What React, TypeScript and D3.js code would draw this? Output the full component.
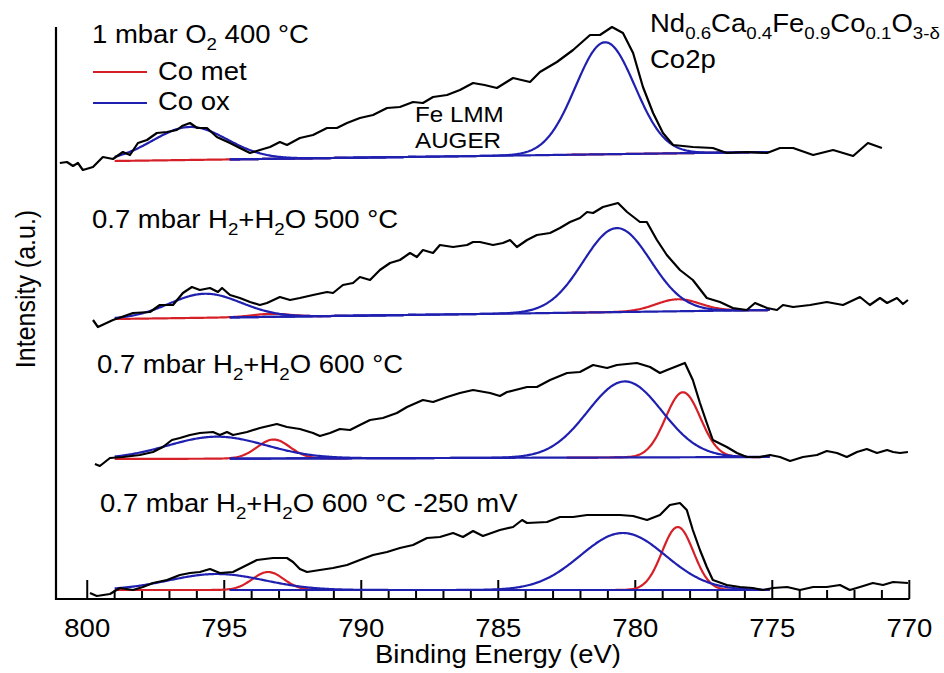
import React from 'react';
import * as d3 from 'd3';

const W = 944;
const H = 673;

// ---------- DATA ----------
const spectrumLabels = [
  '1 mbar O_2 400 °C',
  '0.7 mbar H_2+H_2O 500 °C',
  '0.7 mbar H_2+H_2O 600 °C',
  '0.7 mbar H_2+H_2O 600 °C -250 mV',
];
const formulaLabel = 'Nd_{0.6}Ca_{0.4}Fe_{0.9}Co_{0.1}O_{3-δ}';
const regionLabel = 'Co2p';
const augerLabel = ['Fe LMM', 'AUGER'];
const legendLabels = ['Co met', 'Co ox'];
const xTickLabels = [800, 795, 790, 785, 780, 775, 770];
const xTitle = 'Binding Energy (eV)';
const yTitle = 'Intensity (a.u.)';

// Raw spectra: [binding energy eV, intensity a.u. (stacked)]
const rawO2_400: [number, number][] = [
  [801.0, 436], [800.74, 437], [800.52, 433], [800.34, 436], [800.16, 429], [799.79, 432], [799.43, 442],
  [799.06, 440], [798.7, 447], [798.44, 444], [798.15, 456], [797.82, 459], [797.46, 466], [797.09, 467],
  [796.73, 469], [796.54, 473], [796.25, 476], [795.99, 471], [795.63, 471], [795.27, 462], [794.79, 456],
  [794.43, 451], [794.06, 446], [793.7, 449], [793.33, 452], [792.97, 457], [792.71, 454], [792.24, 461],
  [791.76, 464], [791.25, 471], [790.89, 471], [790.52, 476], [790.05, 481], [789.57, 484], [789.06, 491],
  [788.59, 492], [788.11, 497], [787.75, 496], [787.38, 502], [786.87, 504], [786.4, 509], [785.92, 516],
  [785.5, 514], [785.05, 511], [784.46, 521], [783.84, 517], [783.48, 527], [782.86, 537], [782.27, 549],
  [781.65, 564], [781.29, 564], [780.85, 572], [780.45, 566], [780.08, 546], [779.72, 512], [779.35, 486],
  [778.99, 466], [778.62, 454], [777.9, 452], [777.17, 451], [776.66, 446], [775.93, 447], [775.19, 446],
  [774.72, 451], [774.24, 451], [773.51, 444], [772.78, 449], [772.05, 443], [771.51, 456], [771.0, 451],
];
const rawH2_500: [number, number][] = [
  [799.79, 279], [799.61, 272], [799.06, 279], [798.33, 286], [797.71, 287], [797.35, 294], [796.87, 294],
  [796.51, 306], [796.18, 312], [795.89, 309], [795.52, 311], [795.23, 307], [795.08, 311], [794.79, 304],
  [794.43, 301], [794.06, 297], [793.7, 294], [793.44, 296], [792.97, 302], [792.6, 299], [792.24, 301],
  [791.76, 304], [791.25, 307], [791.03, 306], [790.67, 314], [790.3, 316], [790.05, 322], [789.68, 319],
  [789.32, 329], [788.95, 336], [788.59, 339], [788.22, 346], [787.97, 342], [787.75, 349], [787.38, 346],
  [787.13, 354], [786.65, 352], [786.14, 354], [785.92, 357], [785.67, 357], [785.19, 354], [784.83, 356],
  [784.57, 359], [784.32, 352], [783.95, 359], [783.59, 364], [783.11, 366], [782.75, 371], [782.38, 377],
  [782.02, 381], [781.76, 387], [781.54, 386], [781.18, 392], [780.63, 396], [780.3, 387], [779.83, 377],
  [779.58, 377], [779.21, 359], [778.85, 344], [778.37, 329], [777.9, 319], [777.39, 301], [776.91, 297],
  [776.44, 291], [775.93, 289], [775.63, 296], [775.19, 291], [774.83, 289], [774.61, 294], [774.24, 292],
  [773.62, 294], [773.01, 297], [772.42, 294], [771.8, 302], [771.44, 294], [771.07, 301], [770.81, 296],
  [770.45, 301], [770.23, 295], [770.05, 299],
];
const rawH2_600: [number, number][] = [
  [799.72, 135], [799.54, 133], [799.17, 141], [798.7, 142], [798.08, 144], [797.6, 147], [797.24, 152],
  [796.91, 159], [796.62, 161], [796.25, 164], [795.89, 166], [795.41, 167], [795.16, 164], [794.9, 167],
  [794.68, 164], [794.17, 167], [793.7, 171], [793.08, 175], [792.71, 172], [792.24, 170], [791.76, 166],
  [791.51, 163], [791.14, 166], [790.78, 170], [790.41, 169], [790.05, 174], [789.68, 179], [789.21, 181],
  [788.7, 186], [788.33, 192], [787.75, 199], [787.38, 197], [786.87, 202], [786.4, 206], [785.92, 209],
  [785.3, 206], [784.94, 203], [784.68, 207], [783.95, 212], [783.59, 212], [783.11, 219], [782.49, 226],
  [782.02, 227], [781.54, 234], [781.03, 231], [780.67, 234], [779.94, 236], [779.46, 232], [779.1, 226],
  [778.84, 229], [778.19, 236], [777.9, 219], [777.64, 196], [777.39, 176], [777.17, 159], [776.66, 152],
  [776.29, 146], [775.93, 142], [775.45, 142], [775.08, 144], [774.72, 142], [774.35, 138], [773.88, 142],
  [773.37, 144], [773.01, 148], [772.64, 146], [772.28, 142], [771.91, 147], [771.55, 150], [771.18, 146],
  [770.81, 149], [770.59, 147], [770.34, 146], [770.05, 147],
];
const rawH2_600_bias: [number, number][] = [
  [799.9, 6], [799.65, 3], [799.17, 5], [798.81, 11], [798.33, 9], [797.97, 12], [797.6, 16], [797.09, 19],
  [796.62, 24], [796.25, 26], [795.89, 27], [795.52, 30], [795.16, 26], [794.68, 27], [794.17, 34],
  [793.81, 39], [793.22, 41], [792.71, 41], [792.49, 37], [792.24, 30], [791.98, 27], [791.51, 29],
  [791.03, 31], [790.52, 34], [790.05, 39], [789.57, 44], [789.06, 47], [788.59, 51], [788.11, 54],
  [787.6, 61], [787.13, 62], [786.65, 66], [786.29, 62], [785.92, 68], [785.56, 63], [784.94, 69],
  [784.46, 72], [784.13, 79], [783.95, 76], [783.22, 77], [782.75, 82], [782.27, 82], [781.76, 84],
  [781.18, 84], [780.56, 84], [780.08, 83], [779.57, 79], [779.1, 84], [778.74, 94], [778.37, 96],
  [778.12, 89], [777.9, 69], [777.64, 49], [777.39, 32], [777.17, 19], [776.66, 14], [776.18, 12],
  [775.71, 11], [775.34, 9], [774.98, 11], [774.46, 12], [773.99, 9], [773.51, 12], [773.01, 12],
  [772.53, 14], [772.17, 9], [771.8, 12], [771.33, 16], [770.96, 14], [770.59, 17], [770.05, 16],
];
const rawSpectra = [rawO2_400, rawH2_500, rawH2_600, rawH2_600_bias];

// Fit background (linear, from 799 eV to 775.1 eV)
const bgStartEnergy = 799;
const bgEndEnergy = 775.1;
const bgStart = [438, 280, 140, 9];
const bgEnd = [447, 289, 142, 9];

// Fitted components: centre (eV), height above background, FWHM (eV)
const coOx32Center = [781.1, 780.67, 780.38, 780.45];
const coOx32Height = [112, 84, 76, 57];
const coOx32Fwhm = [2.55, 2.9, 3.2, 3.65];
const coOx12Center = [796.25, 795.7, 795.27, 795.27];
const coOx12Height = [33, 24, 22, 16];
const coOx12Fwhm = [3.2, 3.1, 4.2, 4.1];
const coMet32Center = [778.3, 778.44, 778.26, 778.45];
const coMet32Height = [0, 12, 65, 63];
const coMet32Fwhm = [1.5, 1.9, 1.5, 1.35];
const coMet12Center = [793.3, 793.3, 793.2, 793.4];
const coMet12Height = [0, 3, 19, 18];
const coMet12Fwhm = [1.4, 1.6, 1.4, 1.35];

// ---------- STYLE ----------
const RED = '#d62028';
const BLUE = '#1f1fb0';
const FONT = '"Liberation Sans", Arial, Helvetica, sans-serif';
const SX = 1.1;

const x = d3.scaleLinear().domain([801.14, 770]).range([56, 909.3]);
const y = d3.scaleLinear().domain([0, 572]).range([599, 27]);

const line = d3
  .line<[number, number]>()
  .x((d) => x(d[0]))
  .y((d) => y(d[1]));

function background(i: number, e: number) {
  const t = Math.max(0, Math.min(1, (bgStartEnergy - e) / (bgStartEnergy - bgEndEnergy)));
  return bgStart[i] + t * (bgEnd[i] - bgStart[i]);
}

function component(i: number, c: number, h: number, fwhm: number, from: number, to: number) {
  const pts: [number, number][] = [];
  const n = Math.round((from - to) / 0.04);
  for (let k = 0; k <= n; k++) {
    const e = from - ((from - to) * k) / n;
    const g = h * Math.exp((-4 * Math.LN2 * (e - c) * (e - c)) / (fwhm * fwhm));
    pts.push([e, background(i, e) + g]);
  }
  return pts;
}

function parseRich(s: string) {
  const parts: { t: string; sub: boolean }[] = [];
  const re = /_\{([^}]*)\}|_(.)/g;
  let last = 0;
  let m: RegExpExecArray | null;
  while ((m = re.exec(s))) {
    if (m.index > last) parts.push({ t: s.slice(last, m.index), sub: false });
    parts.push({ t: m[1] ?? m[2], sub: true });
    last = re.lastIndex;
  }
  if (last < s.length) parts.push({ t: s.slice(last), sub: false });
  return parts;
}

function SText({
  x: tx,
  y: ty,
  text,
  size = 25,
  anchor = 'start',
}: {
  x: number;
  y: number;
  text: string;
  size?: number;
  anchor?: string;
}) {
  const parts = parseRich(text);
  const subSize = Math.round(size * 0.66);
  const shift = Math.round(size * 0.26);
  let inSub = false;
  return (
    <g transform={`translate(${tx},${ty}) scale(${SX},1)`}>
      <text fontFamily={FONT} fontSize={size} textAnchor={anchor} fill="#000">
        {parts.map((p, k) => {
          let dy = 0;
          if (p.sub && !inSub) dy = shift;
          if (!p.sub && inSub) dy = -shift;
          inSub = p.sub;
          return (
            <tspan key={k} dy={dy} fontSize={p.sub ? subSize : size}>
              {p.t}
            </tspan>
          );
        })}
      </text>
    </g>
  );
}

const labelPos = [
  [92, 43],
  [92, 228],
  [97, 373],
  [100, 512],
];

export default function App() {
  const minorTicks = d3.range(770, 801, 1).filter((v) => v % 5 !== 0);
  return (
    <svg
      width={W}
      height={H}
      viewBox={`0 0 ${W} ${H}`}
      style={{ position: 'absolute', left: 0, top: 0, background: '#fff', display: 'block' }}
    >
      <rect width={W} height={H} fill="#fff" />
      {/* axes */}
      <line x1={56} x2={56} y1={27} y2={600} stroke="#000" strokeWidth={2.2} />
      <line x1={55} x2={x(770)} y1={599} y2={599} stroke="#000" strokeWidth={2.2} />
      {xTickLabels.map((v) => (
        <line key={'M' + v} x1={x(v)} x2={x(v)} y1={599} y2={580} stroke="#000" strokeWidth={2} />
      ))}
      {minorTicks.map((v) => (
        <line key={'m' + v} x1={x(v)} x2={x(v)} y1={599} y2={590} stroke="#000" strokeWidth={2} />
      ))}
      {xTickLabels.map((v) => (
        <SText key={'t' + v} x={x(v)} y={637} text={String(v)} anchor="middle" />
      ))}
      <SText x={498} y={663} text={xTitle} anchor="middle" />
      <g transform={`translate(35,289) scale(${SX},1) rotate(-90)`}>
        <text fontFamily={FONT} fontSize={25} textAnchor="middle">
          {yTitle}
        </text>
      </g>

      {/* fitted components */}
      {rawSpectra.map((_, i) => (
        <g key={'fit' + i} fill="none" strokeWidth={2.2} strokeLinejoin="round">
          <path d={line(component(i, coMet12Center[i], coMet12Height[i], coMet12Fwhm[i], 799, 790.5)) || ''} stroke={RED} />
          <path d={line(component(i, coMet32Center[i], coMet32Height[i], coMet32Fwhm[i], 782.5, 775.1)) || ''} stroke={RED} />
          <path d={line(component(i, coOx12Center[i], coOx12Height[i], coOx12Fwhm[i], 799, 788)) || ''} stroke={BLUE} />
          <path d={line(component(i, coOx32Center[i], coOx32Height[i], coOx32Fwhm[i], 794.8, 775.1)) || ''} stroke={BLUE} />
          <path d={line(component(i, 0, 0, 1, 794.8, 775.1)) || ''} stroke={BLUE} />
        </g>
      ))}

      {/* raw data */}
      {rawSpectra.map((d, i) => (
        <path key={'raw' + i} d={line(d) || ''} fill="none" stroke="#000" strokeWidth={2.2} strokeLinejoin="round" />
      ))}

      {/* labels */}
      {spectrumLabels.map((s, i) => (
        <SText key={'lab' + i} x={labelPos[i][0]} y={labelPos[i][1]} text={s} />
      ))}
      <SText x={650} y={32} text={formulaLabel} />
      <SText x={650} y={68} text={regionLabel} />
      <SText x={415} y={122} text={augerLabel[0]} size={22} />
      <SText x={415} y={148} text={augerLabel[1]} size={22} />

      {/* legend */}
      <line x1={93} x2={147} y1={72} y2={72} stroke={RED} strokeWidth={2.2} />
      <SText x={158} y={80} text={legendLabels[0]} />
      <line x1={93} x2={147} y1={103} y2={103} stroke={BLUE} strokeWidth={2.2} />
      <SText x={158} y={110} text={legendLabels[1]} />
    </svg>
  );
}
